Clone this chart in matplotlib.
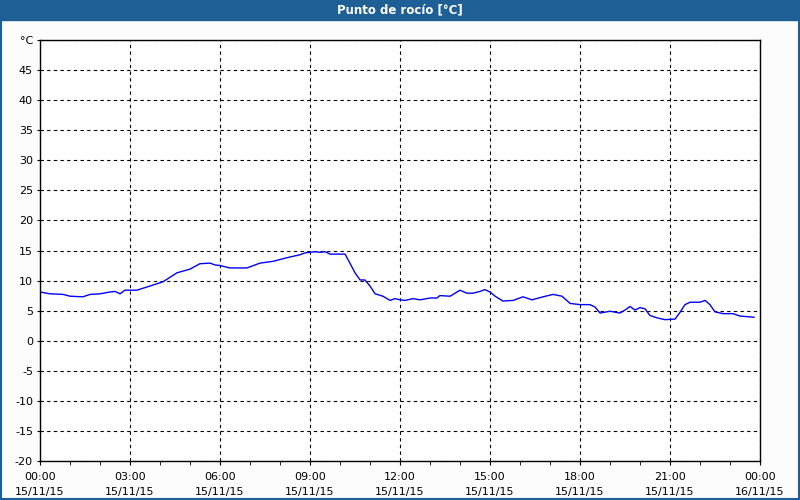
import matplotlib.pyplot as plt
from matplotlib.patches import Rectangle

# dew point readings, hours since 15/11/15 00:00
hours = [0.0, 0.33, 0.77, 1.0, 1.43, 1.67, 2.0, 2.33, 2.5, 2.67, 2.83, 3.23, 3.67,
         4.1, 4.57, 5.0, 5.33, 5.67, 5.83, 6.0, 6.33, 6.9, 7.33, 7.77, 8.23, 8.67,
         8.83, 9.17, 9.33, 9.5, 9.67, 10.17, 10.33, 10.5, 10.67, 10.83, 11.0, 11.17,
         11.43, 11.67, 11.83, 12.0, 12.17, 12.43, 12.67, 13.0, 13.23, 13.33, 13.67,
         14.0, 14.23, 14.43, 14.67, 14.83, 15.0, 15.17, 15.43, 15.77, 16.1, 16.4,
         16.77, 17.1, 17.4, 17.67, 18.0, 18.33, 18.5, 18.67, 19.0, 19.33, 19.5,
         19.67, 19.83, 20.0, 20.17, 20.33, 20.57, 20.83, 21.17, 21.33, 21.5, 21.67,
         22.0, 22.17, 22.33, 22.5, 22.77, 23.1, 23.33, 23.8]
dew_point = [8.1, 7.8, 7.7, 7.4, 7.3, 7.7, 7.8, 8.1, 8.2, 7.8, 8.4, 8.4, 9.1,
             9.8, 11.3, 11.9, 12.8, 12.9, 12.6, 12.5, 12.1, 12.1, 12.9, 13.2, 13.8, 14.3,
             14.6, 14.8, 14.7, 14.8, 14.4, 14.4, 12.9, 11.3, 10.1, 10.1, 9.1, 7.8,
             7.4, 6.7, 7.0, 6.8, 6.7, 7.0, 6.8, 7.1, 7.1, 7.5, 7.4,
             8.4, 7.9, 7.9, 8.2, 8.5, 8.1, 7.4, 6.6, 6.7, 7.3, 6.8,
             7.3, 7.7, 7.4, 6.2, 6.0, 6.0, 5.6, 4.6, 4.9, 4.6, 5.1,
             5.7, 5.1, 5.5, 5.3, 4.2, 3.8, 3.5, 3.6, 4.7, 6.0, 6.4,
             6.4, 6.7, 6.0, 4.8, 4.5, 4.5, 4.1, 3.9]

x_ticks = [0, 3, 6, 9, 12, 15, 18, 21, 24]
x_labels = ["00:00\n15/11/15", "03:00\n15/11/15", "06:00\n15/11/15", "09:00\n15/11/15",
            "12:00\n15/11/15", "15:00\n15/11/15", "18:00\n15/11/15", "21:00\n15/11/15",
            "00:00\n16/11/15"]
y_ticks = list(range(-20, 51, 5))
y_labels = [str(v) for v in range(-20, 46, 5)] + ["°C"]

bar_blue = "#1e6096"

fig = plt.figure(figsize=(8, 5), dpi=100, facecolor="#fbfcfb")

# title bar and border
fig.patches.append(Rectangle((0, 0.96), 1, 0.04, transform=fig.transFigure,
                             color=bar_blue, zorder=0))
fig.patches.append(Rectangle((0.0012, 0.002), 0.9976, 0.996, transform=fig.transFigure,
                             fill=False, edgecolor=bar_blue, linewidth=1.5, zorder=0))
fig.text(0.5, 0.98, "Punto de rocío [°C]", color="white", ha="center", va="center",
         fontsize=8.5, fontweight="bold")

ax = fig.add_axes([0.05, 0.078, 0.9, 0.842])
ax.set_facecolor("white")
ax.plot(hours, dew_point, color="#0000ff", linewidth=1)

ax.set_xlim(0, 24)
ax.set_ylim(-20, 50)
ax.set_xticks(x_ticks)
ax.set_xticklabels(x_labels, fontsize=8, linespacing=1.6)
ax.set_xticks(range(25), minor=True)
ax.set_yticks(y_ticks)
ax.set_yticklabels(y_labels, fontsize=8)
ax.tick_params(axis="x", which="both", length=3, pad=5)
ax.tick_params(axis="y", length=2, pad=3)
ax.grid(True, color="black", linestyle=(0, (3, 3)), linewidth=0.8)
for s in ax.spines.values():
    s.set_color("black")
    s.set_linewidth(1)

fig.savefig("out.png", dpi=100, facecolor=fig.get_facecolor())
